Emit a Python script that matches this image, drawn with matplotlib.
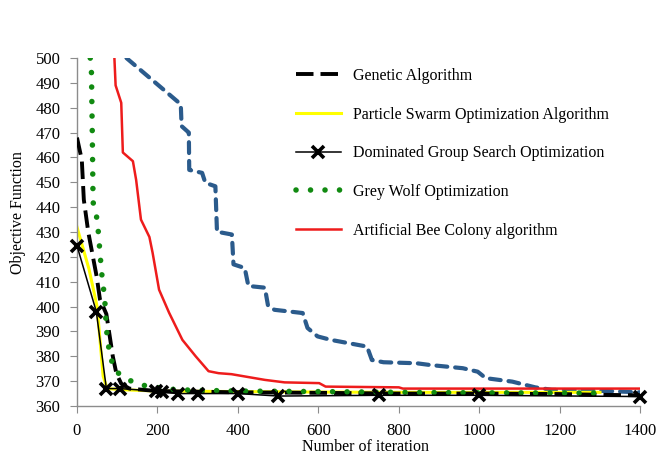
import numpy as np
import matplotlib.pyplot as plt

plt.rcParams['font.family'] = ['Liberation Serif', 'DejaVu Serif']

# ---------------- data ----------------
# Genetic Algorithm (black dashed)
ga_x = [0, 12, 17, 28, 49, 57, 73, 89, 98, 110, 130, 200, 400, 600, 800, 1000, 1200, 1300, 1400]
ga_y = [468, 459, 443, 430, 412, 403, 397, 380, 373, 369, 367, 366, 365.5, 365.3, 365, 365, 364.8, 364.5, 364.3]

# Particle Swarm Optimization (yellow)
pso_x = [0, 30, 50, 65, 75, 120, 200, 400, 600, 800, 1000, 1300]
pso_y = [432, 415, 400, 372, 367, 366.5, 366, 365.8, 365.6, 365.5, 365.5, 365.5]

# Dominated Group Search Optimization (black, x markers)
dgso_x = [0, 48, 73, 106, 196, 212, 250, 300, 400, 500, 750, 1000, 1400]
dgso_y = [424.5, 398, 367, 367, 366, 365.5, 365, 365, 365, 364, 364.3, 364.3, 363.8]

# Grey Wolf Optimization (green dotted)
gwo_x = [33, 36, 38, 40, 48, 52, 55, 61, 69, 73, 81, 93, 114, 147, 180, 250, 400, 600, 800, 1000, 1290]
gwo_y = [500, 494, 470, 442, 437, 432, 426, 414, 403, 391, 381, 374.5, 371.8, 369, 367.8, 366.5, 366, 365.8, 365.5, 365.3, 365.2]

# Artificial Bee Colony (red)
abc_x = [93, 96, 110, 114, 139, 147, 159, 180, 188, 204, 229, 262, 295, 327, 352, 384, 467, 516, 602, 618, 800, 810, 1400]
abc_y = [500, 489, 482, 462, 458.5, 451, 435, 428, 421.6, 406.8, 397.5, 386.6, 380, 374, 373.2, 372.8, 370.5, 369.5, 369.2, 367.8, 367.5, 367, 367]

# unlabelled blue dashed curve
blue_x = [123, 258, 260, 278, 279, 311, 319, 344, 348, 352, 385, 389, 417, 426, 467, 475, 491, 561, 573, 598,
          631, 721, 733, 762, 844, 877, 959, 996, 1016, 1082, 1139, 1180, 1287, 1400]
blue_y = [500, 481.4, 472.6, 470, 455, 453.8, 449.8, 448.4, 430, 430, 429, 417, 415.5, 408.3, 407.6, 400.2, 398.7, 397.4, 391.4, 388,
          386.6, 383.9, 378.5, 377.6, 377.2, 376.5, 375.2, 373.8, 371.2, 369.8, 367.5, 366.5, 366.2, 365.5]

labels = ['Genetic Algorithm', 'Particle Swarm Optimization Algorithm',
          'Dominated Group Search Optimization', 'Grey Wolf Optimization',
          'Artificial Bee Colony algorithm']

# ---------------- figure ----------------
fig = plt.figure(figsize=(6.58, 4.59), dpi=100)
ax = fig.add_axes([0.117, 0.1155, 0.856, 0.758])

ax.plot(blue_x, blue_y, color='#2b5b8c', lw=3.0, linestyle=(0, (2.6, 1.9)),
        dash_capstyle='round', label='_nolegend_', zorder=1)
l_ga, = ax.plot(ga_x, ga_y, color='black', lw=2.8, linestyle=(0, (4.5, 1.8)), zorder=3)
l_pso, = ax.plot(pso_x, pso_y, color='#ffff00', lw=2.2, zorder=2)
l_dgso, = ax.plot(dgso_x, dgso_y, color='black', lw=1.1, marker='x', ms=8,
                  mew=2.6, zorder=5, clip_on=False)
l_gwo, = ax.plot(gwo_x, gwo_y, color='#118a11', lw=4.0, linestyle=(0, (0.01, 2.6)),
                 dash_capstyle='round', zorder=4)
l_abc, = ax.plot(abc_x, abc_y, color='#ee1c1c', lw=1.8, zorder=2)

ax.set_xlim(0, 1400)
ax.set_ylim(360, 500)
ax.set_xticks(np.arange(0, 1401, 200))
ax.set_yticks(np.arange(360, 501, 10))
ax.tick_params(direction='out', length=5, pad=7, color='#8c8c8c', labelsize=12)

for s in ['top', 'right']:
    ax.spines[s].set_visible(False)
for s in ['left', 'bottom']:
    ax.spines[s].set_color('#8c8c8c')
    ax.spines[s].set_linewidth(1.0)

ax.set_xlabel('Number of iteration', fontsize=11.5)
ax.set_ylabel('Objective Function', fontsize=11.5)
ax.xaxis.set_label_coords(0.513, -0.095)
ax.yaxis.set_label_coords(-0.09, 0.557)

fig.legend([l_ga, l_pso, l_dgso, l_gwo, l_abc], labels,
           loc='upper left', bbox_to_anchor=(0.44, 0.866), frameon=False,
           fontsize=11.5, handlelength=2.8, handletextpad=0.75,
           labelspacing=1.42, borderaxespad=0)

fig.savefig('out.png', dpi=100)
